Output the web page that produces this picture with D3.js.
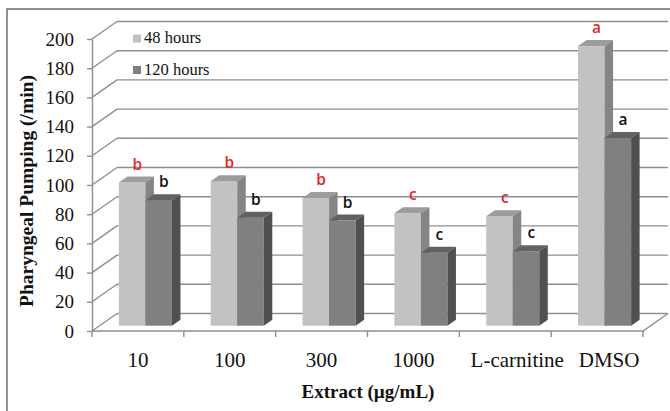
<!DOCTYPE html>
<html>
<head>
<meta charset="utf-8">
<script src="https://cdn.jsdelivr.net/npm/d3@7"></script>
<style>
  body { margin: 0; background: #fff; }
  svg { display: block; }
</style>
</head>
<body>
<div id="chart"></div>
<script>
// data
var categories = ['10', '100', '300', '1000', 'L-carnitine', 'DMSO'];
var pump48 = [98, 99, 87.5, 77, 75, 191.5];
var pump120 = [86, 74, 72, 50, 51, 128.5];
var sig48 = ['b', 'b', 'b', 'c', 'c', 'a'];
var sig120 = ['b', 'b', 'b', 'c', 'c', 'a'];
var seriesNames = ['48 hours', '120 hours'];
var yTicks = d3.range(0, 201, 20);

var width = 670, height = 411;
var serif = '"Liberation Serif", "Times New Roman", serif';

// 3d offsets: whole plot depth, and bar position inside it
var wallDx = 25, wallDy = -17.5;
var barDx0 = 7.5, barDy0 = -5.3;   // where the bar front face sits
var barDepthX = 8.5, barDepthY = -6;

var colors = {
  light: { front: '#c2c2c2', top: '#9c9c9c', side: '#858585' },
  dark:  { front: '#808080', top: '#626262', side: '#505050' }
};

var svg = d3.select('#chart').append('svg')
  .attr('width', width)
  .attr('height', height);

// outer frame (only top and left visible)
svg.append('path')
  .attr('d', 'M7,411 L7,9 L670,9')
  .attr('fill', 'none')
  .attr('stroke', '#6e6e6e')
  .attr('stroke-width', 1.5);

var x = d3.scaleBand().domain(categories).range([92, 643]).padding(0);
var y = d3.scaleLinear().domain([0, 200]).range([331, 39]);
var backRight = 668;

var grid = svg.append('g').attr('stroke', '#8e8e8e').attr('stroke-width', 1.4).attr('fill', 'none');

// back wall lines + side wall diagonals
yTicks.forEach(function (t) {
  grid.append('line')
    .attr('x1', 92 + wallDx).attr('y1', y(t) + wallDy)
    .attr('x2', backRight).attr('y2', y(t) + wallDy);
  grid.append('line')
    .attr('x1', 92).attr('y1', y(t))
    .attr('x2', 92 + wallDx).attr('y2', y(t) + wallDy);
});

// floor front + right edge
grid.append('path')
  .attr('d', 'M92,' + y(0) + ' L643,' + y(0) + ' L' + backRight + ',' + (y(0) + wallDy));

// category boundary ticks
d3.range(categories.length + 1).forEach(function (i) {
  var xx = 92 + i * x.step();
  grid.append('line')
    .attr('x1', xx).attr('y1', y(0))
    .attr('x2', xx).attr('y2', y(0) + 6);
});

// y axis
var yAxis = d3.axisLeft(y).tickValues(yTicks).tickSize(5).tickSizeOuter(0).tickPadding(13);
var yg = svg.append('g').attr('transform', 'translate(92,0)').call(yAxis);
yg.select('.domain').attr('stroke', '#8e8e8e').attr('stroke-width', 1.4);
yg.selectAll('.tick line').attr('stroke', '#8e8e8e').attr('stroke-width', 1.4);
yg.selectAll('.tick text')
  .attr('fill', '#111')
  .style('font-family', serif)
  .style('font-size', '19px');

// bars
var barW = x.step() * 0.289;

function drawBar(g, xLeft, value, c) {
  var base = y(0) + barDy0;
  var top = y(value) + barDy0;
  var x2 = xLeft + barW;
  g.append('rect')
    .attr('x', xLeft).attr('y', top)
    .attr('width', barW).attr('height', base - top)
    .attr('fill', c.front);
  g.append('path')
    .attr('d', 'M' + xLeft + ',' + top + ' L' + x2 + ',' + top +
      ' L' + (x2 + barDepthX) + ',' + (top + barDepthY) +
      ' L' + (xLeft + barDepthX) + ',' + (top + barDepthY) + 'Z')
    .attr('fill', c.top);
  g.append('path')
    .attr('d', 'M' + x2 + ',' + top + ' L' + (x2 + barDepthX) + ',' + (top + barDepthY) +
      ' L' + (x2 + barDepthX) + ',' + (base + barDepthY) +
      ' L' + x2 + ',' + base + 'Z')
    .attr('fill', c.side);
}

function drawLetter(g, xLeft, value, letter, color) {
  g.append('text')
    .attr('x', xLeft + barW / 2 + barDepthX / 2 + 1)
    .attr('y', y(value) + barDy0 + barDepthY - 7)
    .attr('text-anchor', 'middle')
    .attr('fill', color)
    .style('font-family', '"Open Sans", "Liberation Sans", sans-serif')
    .style('font-weight', 600)
    .style('font-size', '15.5px')
    .text(letter);
}

var bars = svg.append('g');
categories.forEach(function (cat, i) {
  var center = x(cat) + x.bandwidth() / 2 + barDx0;
  drawBar(bars, center - barW, pump48[i], colors.light);
  drawBar(bars, center, pump120[i], colors.dark);
});
categories.forEach(function (cat, i) {
  var center = x(cat) + x.bandwidth() / 2 + barDx0;
  drawLetter(bars, center - barW, pump48[i], sig48[i], '#e3262b');
  drawLetter(bars, center, pump120[i], sig120[i], '#111');
});

// category labels (the last two sit a little right of centre in the original)
svg.append('g').selectAll('text')
  .data(categories)
  .join('text')
  .attr('x', function (d, i) { return x(d) + x.bandwidth() / 2 + (i >= 4 ? 12 : 0); })
  .attr('y', 367)
  .attr('text-anchor', 'middle')
  .attr('fill', '#111')
  .style('font-family', serif)
  .style('font-size', '21px')
  .text(function (d) { return d; });

// axis titles
svg.append('text')
  .attr('x', 368).attr('y', 398)
  .attr('text-anchor', 'middle')
  .attr('fill', '#111')
  .style('font-family', serif)
  .style('font-weight', 'bold')
  .style('font-size', '19px')
  .text('Extract (µg/mL)');

svg.append('text')
  .attr('transform', 'translate(33,191) rotate(-90)')
  .attr('text-anchor', 'middle')
  .attr('fill', '#111')
  .style('font-family', serif)
  .style('font-weight', 'bold')
  .style('font-size', '19.5px')
  .text('Pharyngeal Pumping (/min)');

// legend
var legend = svg.append('g');
[colors.light.front, colors.dark.front].forEach(function (c, i) {
  legend.append('rect')
    .attr('x', 133).attr('y', 34.5 + i * 31.5)
    .attr('width', 8).attr('height', 8)
    .attr('fill', c);
  legend.append('text')
    .attr('x', 144).attr('y', 43 + i * 31.5)
    .attr('fill', '#111')
    .style('font-family', serif)
    .style('font-size', '16.5px')
    .text(seriesNames[i]);
});
</script>
</body>
</html>
